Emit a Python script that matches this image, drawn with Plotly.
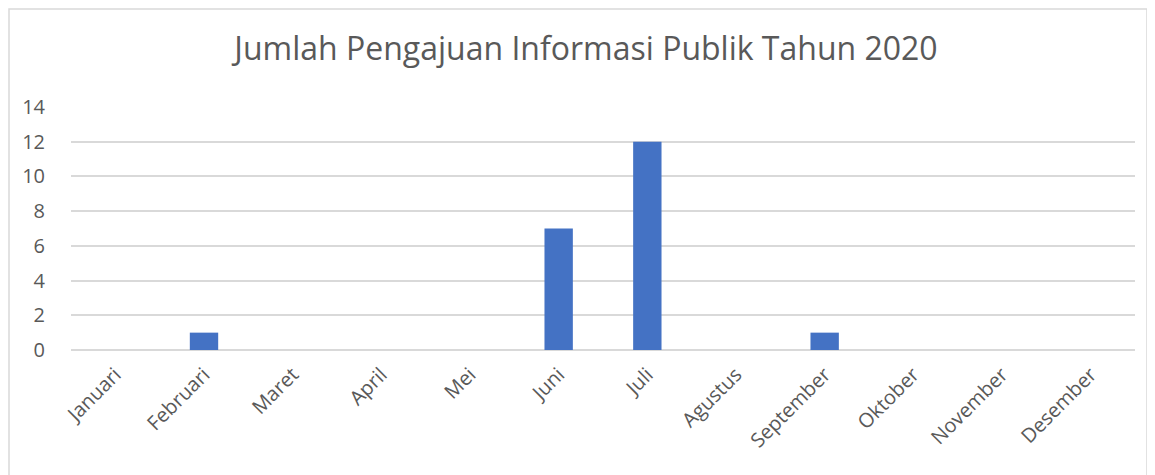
import plotly.graph_objects as go

months = ["Januari", "Februari", "Maret", "April", "Mei", "Juni", "Juli",
          "Agustus", "September", "Oktober", "November", "Desember"]
values = [0, 1, 0, 0, 0, 7, 12, 0, 1, 0, 0, 0]
title_text = "Jumlah Pengajuan Informasi Publik Tahun 2020"

font_family = "Open Sans, Liberation Sans, sans-serif"
text_color = "#595959"

fig = go.Figure(go.Bar(x=months, y=values, marker_color="#4472c4",
                       marker_line_width=0))

# the page has an 8px body margin, so the figure is drawn from (8, 8)
OFF = 8
W, H = 1155 - OFF, 475 - OFF
ml, mr, mt, mb = 71 - OFF, 20, 107 - OFF, 125
pw, ph = W - ml - mr, H - mt - mb

def px_x(x):
    return (x - OFF - ml) / pw

def px_y(y):
    return (H - mb - (y - OFF)) / ph

fig.update_layout(
    width=W, height=H,
    margin=dict(l=ml, r=mr, t=mt, b=mb),
    paper_bgcolor="white", plot_bgcolor="white",
    bargap=0.68,
    showlegend=False,
    title=dict(text=title_text, x=(586 - OFF) / W, xanchor="center", xref="container",
               y=1 - (49 - OFF) / H, yanchor="middle",
               font=dict(family=font_family, size=32, color=text_color)),
    font=dict(family=font_family, color=text_color),
    xaxis=dict(tickangle=-45, tickfont=dict(size=20, color=text_color),
               showgrid=False, showline=False, zeroline=False,
               ticks="outside", ticklen=4, tickcolor="rgba(0,0,0,0)"),
    yaxis=dict(range=[0, 14], dtick=2, tickfont=dict(size=20, color=text_color),
               showgrid=True, gridcolor="#d9d9d9", gridwidth=1.5,
               zeroline=True, zerolinecolor="#d9d9d9", zerolinewidth=1.5,
               showline=False,
               ticks="outside", ticklen=21, tickcolor="rgba(0,0,0,0)"),
    shapes=[dict(type="rect", xref="paper", yref="paper",
                 x0=px_x(9), x1=px_x(1147), y0=px_y(490), y1=px_y(9),
                 line=dict(color="#d9d9d9", width=1.5), fillcolor="rgba(0,0,0,0)",
                 layer="below")],
)

fig.write_html("out.html")
